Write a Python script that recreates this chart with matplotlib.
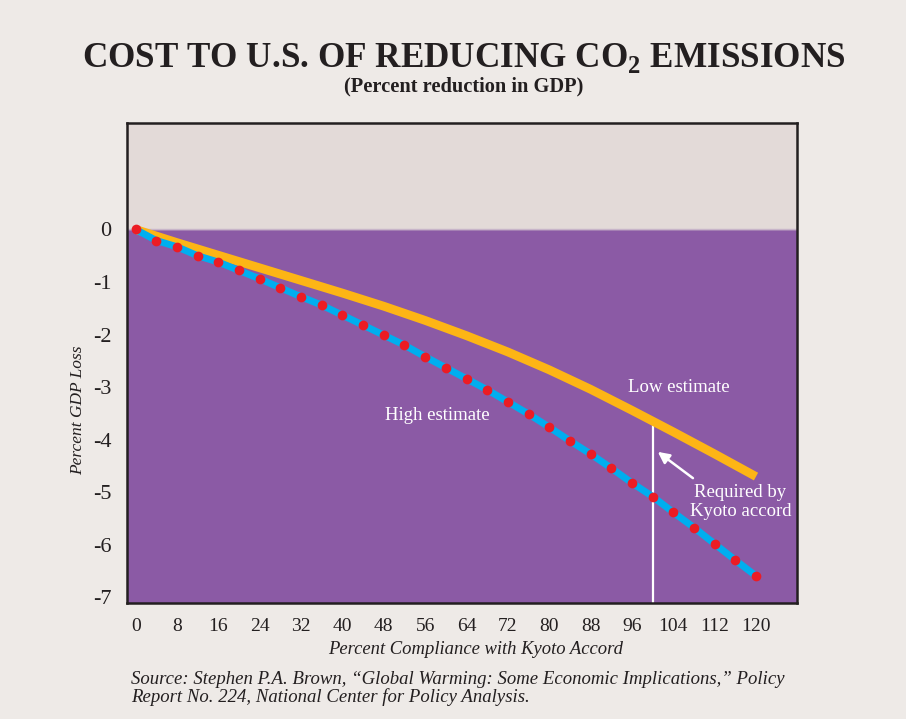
import matplotlib
matplotlib.use("Agg")
import matplotlib.pyplot as plt
from matplotlib.patches import Rectangle

plt.rcParams['font.family'] = ['Liberation Serif', 'DejaVu Serif']
plt.rcParams['mathtext.fontset'] = 'custom'
plt.rcParams['mathtext.rm'] = 'Liberation Serif'
plt.rcParams['mathtext.bf'] = 'Liberation Serif:bold'

# Percent compliance with the Kyoto accord
compliance = [0, 4, 8, 12, 16, 20, 24, 28, 32, 36, 40, 44, 48, 52, 56, 60,
              64, 68, 72, 76, 80, 84, 88, 92, 96, 100, 104, 108, 112, 116, 120]
# High estimate of GDP loss (percent)
high_est = [0.0, -0.21, -0.33, -0.50, -0.62, -0.78, -0.94, -1.11, -1.28, -1.44,
            -1.63, -1.82, -2.01, -2.20, -2.42, -2.63, -2.84, -3.05, -3.28, -3.51,
            -3.76, -4.02, -4.27, -4.54, -4.82, -5.08, -5.38, -5.67, -5.98, -6.29,
            -6.59]

low_x = [0, 8, 16, 24, 32, 40, 48, 56, 64, 72, 80, 88, 96, 104, 112, 120]
# Low estimate of GDP loss (percent)
low_est = [0.0, -0.25, -0.49, -0.73, -0.97, -1.21, -1.46, -1.73, -2.02, -2.33,
           -2.67, -3.04, -3.44, -3.85, -4.27, -4.70]

kyoto_x = 100
kyoto_low = -3.64

x_ticks = list(range(0, 121, 8))
y_ticks = [0, -1, -2, -3, -4, -5, -6, -7]

bg = '#eeeae7'
purple = '#8b5aa5'
upper = '#e3dad8'
gold = '#fdb515'
cyan = '#00aeef'
red = '#ec1c24'
ink = '#231f20'

fig = plt.figure(figsize=(9.22, 7.19), dpi=100, facecolor=bg)
fig.patches.append(Rectangle((906 / 922, 0), 16 / 922, 1, transform=fig.transFigure,
                             facecolor='white', edgecolor='none', zorder=0))

ax = fig.add_axes([127 / 922, 1 - 603 / 719, 670 / 922, 480.5 / 719])
ax.set_xlim(-1.68, 127.93)
ax.set_ylim(-7.105, 2.035)
ax.set_facecolor(purple)
ax.axhspan(0, 2.1, color=upper, zorder=0)
ax.axhline(0, color='#c8b5c9', lw=1, zorder=1)

ax.plot(low_x, low_est, color=gold, lw=6.3, solid_capstyle='butt',
        solid_joinstyle='round', zorder=3)
ax.plot(compliance, high_est, color=cyan, lw=5.0, solid_capstyle='butt',
        solid_joinstyle='round', zorder=4)
ax.plot(compliance, high_est, 'o', color=red, ms=7, mew=0, zorder=5)

# required compliance line
ax.plot([kyoto_x, kyoto_x], [-7.2, kyoto_low], color='white', lw=1.6, zorder=2)
ax.annotate('', xy=(101.0, -4.23), xytext=(107.8, -4.73),
            arrowprops=dict(arrowstyle='-|>', color='white', lw=1.8,
                            mutation_scale=17, shrinkA=0, shrinkB=0), zorder=6)

ax.text(105.1, -3.0, 'Low estimate', color='white', fontsize=13.5,
        ha='center', va='center')
ax.text(58.3, -3.53, 'High estimate', color='white', fontsize=13.5,
        ha='center', va='center')
ax.text(117.0, -5.18, 'Required by\nKyoto accord', color='white', fontsize=13.5,
        ha='center', va='center', linespacing=1.12)

ax.set_xticks(x_ticks)
ax.set_xticklabels([str(t) for t in x_ticks], fontsize=14, color=ink)
ax.set_yticks(y_ticks)
ax.set_yticklabels([str(t) for t in y_ticks], fontsize=16, color=ink)
ax.tick_params(axis='both', length=0)
ax.tick_params(axis='x', pad=11)
ax.tick_params(axis='y', pad=11)
for s in ax.spines.values():
    s.set_color(ink)
    s.set_linewidth(1.8)

fig.text(476 / 922, 1 - 649 / 719, 'Percent Compliance with Kyoto Accord',
         fontsize=13.4, style='italic', color=ink, ha='center', va='center')
fig.text(78 / 922, 1 - 410 / 719, 'Percent GDP Loss', fontsize=12.5, style='italic',
         color=ink, ha='center', va='center', rotation=90)

fig.text(464 / 922, 1 - 58 / 719,
         r'COST TO U.S. OF REDUCING CO$_{\mathbf{2}}$ EMISSIONS',
         fontsize=25.3, fontweight='bold', color=ink, ha='center', va='center')
fig.text(464 / 922, 1 - 86 / 719, '(Percent reduction in GDP)',
         fontsize=14.7, fontweight='bold', color=ink, ha='center', va='center')

fig.text(131 / 922, 1 - 680 / 719,
         'Source: Stephen P.A. Brown, \u201cGlobal Warming: Some Economic Implications,\u201d Policy',
         fontsize=13.5, style='italic', color=ink, ha='left', va='center')
fig.text(131 / 922, 1 - 697 / 719,
         'Report No. 224, National Center for Policy Analysis.',
         fontsize=13.5, style='italic', color=ink, ha='left', va='center')

fig.savefig('out.png', dpi=100, facecolor=bg)
